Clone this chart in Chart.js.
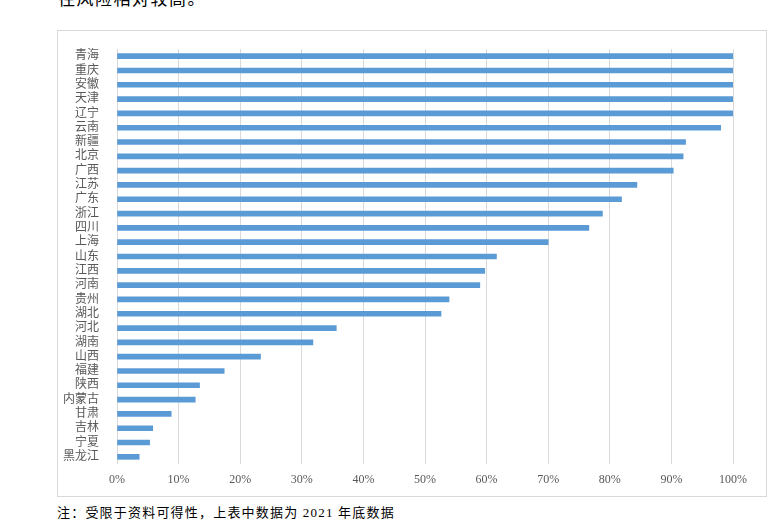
<!DOCTYPE html>
<html>
<head>
<meta charset="utf-8">
<script src="https://cdn.jsdelivr.net/npm/chart.js@4"></script>
<style>
  body { margin: 0; background: #fff; width: 782px; height: 520px; overflow: hidden; position: relative; }
  .lead { position: absolute; left: 58px; top: -15px; font: 17px 'Liberation Serif', 'Noto Sans CJK SC', serif; color: #000; letter-spacing: 1.5px; }
  .box { position: absolute; left: 57px; top: 30px; width: 708px; height: 465px; border: 1px solid #d9d9d9; }
  .note { position: absolute; left: 57px; top: 502px; font: 13px 'Liberation Serif', 'Noto Sans CJK SC', serif; color: #000; letter-spacing: 1.2px; }
</style>
</head>
<body>
<div class="lead">往风险相对较高。</div>
<div class="box"><canvas id="c" width="708" height="465"></canvas></div>
<div class="note">注：受限于资料可得性，上表中数据为 2021 年底数据</div>
<script>
// 各省份占比（%），从上到下
const provinces = ['青海', '重庆', '安徽', '天津', '辽宁', '云南', '新疆', '北京', '广西', '江苏',
  '广东', '浙江', '四川', '上海', '山东', '江西', '河南', '贵州', '湖北', '河北',
  '湖南', '山西', '福建', '陕西', '内蒙古', '甘肃', '吉林', '宁夏', '黑龙江'];
const shares = [100, 100, 100, 100, 100, 98.0, 92.3, 91.9, 90.3, 84.4,
  81.9, 78.8, 76.6, 70.0, 61.6, 59.7, 58.9, 53.9, 52.6, 35.6,
  31.8, 23.3, 17.4, 13.4, 12.7, 8.8, 5.8, 5.3, 3.6];
const xTicks = [0, 10, 20, 30, 40, 50, 60, 70, 80, 90, 100];

const fontFamily = "'Liberation Serif', 'Noto Sans CJK SC', serif";

new Chart(document.getElementById('c'), {
  type: 'bar',
  data: {
    labels: provinces,
    datasets: [{
      data: shares,
      backgroundColor: '#5b9bd5',
      barThickness: 5,
    }],
  },
  options: {
    indexAxis: 'y',
    responsive: false,
    animation: false,
    layout: { padding: { left: 0, right: 33, top: 18, bottom: 0 } },
    plugins: { legend: { display: false }, tooltip: { enabled: false } },
    scales: {
      x: {
        min: 0,
        max: 100,
        afterBuildTicks: (scale) => { scale.ticks = xTicks.map(v => ({ value: v })); },
        afterFit: (scale) => { scale.height = 32; },
        grid: { color: '#d9d9d9', drawTicks: false },
        border: { display: false },
        ticks: {
          padding: 9,
          color: '#595959',
          font: { family: fontFamily, size: 12 },
          callback: (v) => v + '%',
        },
      },
      y: {
        afterFit: (scale) => { scale.width = 59; },
        grid: { display: false },
        border: { display: false },
        ticks: {
          padding: 10,
          autoSkip: false,
          color: '#595959',
          font: { family: fontFamily, size: 12 },
        },
      },
    },
  },
});
</script>
</body>
</html>
